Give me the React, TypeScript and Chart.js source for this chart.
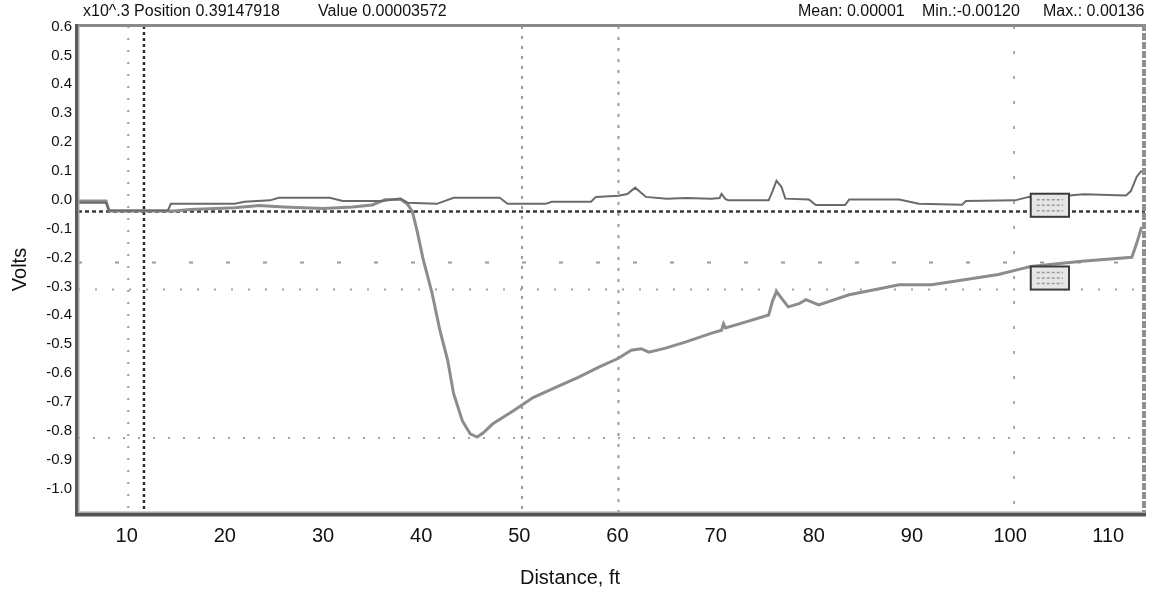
import React, { useEffect, useRef } from "react";
import { Chart, registerables } from "chart.js";

Chart.register(...registerables);

const FONT = "'Liberation Sans', Arial, Helvetica, sans-serif";

// Upper trace (near 0 V)
const upperX = [
  5.04, 7.9, 8.2, 14.2, 14.5, 21.0, 22.0, 24.6, 25.5, 30.7, 32.0, 36.0, 37.9, 38.6, 41.6, 43.3, 48.0,
  48.8, 52.7, 53.3, 57.3, 57.8, 60.1, 61.0, 61.8, 62.9, 65.0, 67.0, 69.6, 70.4, 70.6, 71.0, 71.3, 75.4,
  75.8, 76.2, 76.7, 77.1, 79.5, 80.2, 83.2, 83.6, 88.7, 90.7, 95.1, 95.5, 100.5, 101.9, 106.0, 107.5,
  111.8, 112.3, 112.9, 113.4,
];
const upperY = [
  -0.01, -0.01, -0.037, -0.037, -0.014, -0.014, -0.007, -0.002, 0.007, 0.007, -0.004, -0.004, 0.004,
  -0.01, -0.014, 0.007, 0.007, -0.014, -0.014, -0.007, -0.007, 0.01, 0.014, 0.02, 0.042, 0.01, 0.004,
  0.006, 0.004, 0.006, 0.02, 0.002, -0.002, -0.002, 0.03, 0.066, 0.045, 0.004, 0.001, -0.018, -0.018,
  0.001, 0.001, -0.014, -0.017, -0.004, -0.002, 0.01, 0.015, 0.019, 0.015, 0.03, 0.08, 0.101,
];

// Lower trace (dip to about -0.82 V)
const lowerX = [
  5.04, 7.9, 8.2, 14.8, 16.5, 21.0, 23.5, 26.0, 30.0, 33.0, 35.0, 36.3, 37.9, 38.6, 39.1, 39.6, 40.2,
  41.1, 41.9, 42.7, 43.3, 44.2, 45.0, 45.7, 46.3, 47.3, 49.4, 51.4, 53.7, 56.0, 58.1, 60.1, 61.4, 62.4,
  63.2, 64.9, 66.9, 69.6, 70.6, 70.8, 71.0, 73.1, 75.4, 75.8, 76.2, 76.8, 77.4, 78.5, 79.2, 80.5, 83.6,
  88.7, 92.0, 95.5, 98.8, 100.9, 102.1, 107.3, 112.4, 112.9, 113.4,
];
const lowerY = [
  -0.004, -0.004, -0.039, -0.039, -0.034, -0.028, -0.02, -0.025, -0.03, -0.025, -0.018, 0.0, 0.002,
  -0.015, -0.04, -0.11, -0.206, -0.322, -0.451, -0.556, -0.671, -0.766, -0.811, -0.822, -0.808, -0.776,
  -0.731, -0.685, -0.65, -0.615, -0.58, -0.549, -0.521, -0.516, -0.528, -0.514, -0.493, -0.462, -0.452,
  -0.43, -0.444, -0.423, -0.399, -0.35, -0.318, -0.345, -0.371, -0.36, -0.346, -0.364, -0.329, -0.294,
  -0.294, -0.276, -0.259, -0.241, -0.231, -0.213, -0.199, -0.15, -0.094,
];

const xTickValues = [10, 20, 30, 40, 50, 60, 70, 80, 90, 100, 110];
const yTickValues = [0.6, 0.5, 0.4, 0.3, 0.2, 0.1, 0.0, -0.1, -0.2, -0.3, -0.4, -0.5, -0.6, -0.7, -0.8, -0.9, -1.0];

// Cursor / reference lines
const refHValues = [-0.041, -0.217, -0.311, -0.825];
const refVValues = [10.16, 11.76, 50.27, 60.1, 100.4];

// Marker boxes
const markerX0 = [102.1, 102.1];
const markerX1 = [106.0, 106.0];
const markerTop = [0.021, -0.231];
const markerBottom = [-0.059, -0.311];

const headerTexts = [
  "x10^.3 Position 0.39147918",
  "Value 0.00003572",
  "Mean: 0.00001",
  "Min.:-0.00120",
  "Max.: 0.00136",
];
const xTitle = "Distance, ft";
const yTitle = "Volts";

const hStyles = [
  { color: "#3a3a3a", width: 2.5, dash: [4, 3] },
  { color: "#9a9a9a", width: 2, dash: [4, 33] },
  { color: "#a0a0a0", width: 2, dash: [2, 15] },
  { color: "#a0a0a0", width: 2, dash: [2, 13] },
];
const vStyles = [
  { color: "#9a9a9a", width: 2, dash: [2, 10] },
  { color: "#2e2e2e", width: 2.5, dash: [3, 3] },
  { color: "#9a9a9a", width: 2, dash: [3, 7] },
  { color: "#9a9a9a", width: 2, dash: [3, 8] },
  { color: "#a8a8a8", width: 2, dash: [3, 22] },
];
const headerPos = [83, 318, 798, 922, 1043];

const refPlugin = {
  id: "refLines",
  beforeDatasetsDraw(chart: any) {
    const { ctx, chartArea: ca, scales } = chart;
    const x = scales.x;
    const y = scales.y;
    ctx.save();
    ctx.beginPath();
    ctx.rect(ca.left, ca.top, ca.right - ca.left, ca.bottom - ca.top);
    ctx.clip();
    refHValues.forEach((v, i) => {
      const st = hStyles[i];
      const py = y.getPixelForValue(v);
      ctx.setLineDash(st.dash);
      ctx.lineWidth = st.width;
      ctx.strokeStyle = st.color;
      ctx.beginPath();
      ctx.moveTo(ca.left, py);
      ctx.lineTo(ca.right, py);
      ctx.stroke();
    });
    refVValues.forEach((v, i) => {
      const st = vStyles[i];
      const px = x.getPixelForValue(v);
      ctx.setLineDash(st.dash);
      ctx.lineWidth = st.width;
      ctx.strokeStyle = st.color;
      ctx.beginPath();
      ctx.moveTo(px, ca.top);
      ctx.lineTo(px, ca.bottom);
      ctx.stroke();
    });
    ctx.restore();
  },
};

const decorPlugin = {
  id: "decor",
  afterDatasetsDraw(chart: any) {
    const { ctx, scales } = chart;
    const x = scales.x;
    const y = scales.y;
    ctx.save();
    markerX0.forEach((x0, i) => {
      const l = x.getPixelForValue(x0);
      const r = x.getPixelForValue(markerX1[i]);
      const t = y.getPixelForValue(markerTop[i]);
      const b = y.getPixelForValue(markerBottom[i]);
      ctx.setLineDash([]);
      ctx.fillStyle = "#e6e6e6";
      ctx.fillRect(l, t, r - l, b - t);
      ctx.strokeStyle = "#9a9a9a";
      ctx.lineWidth = 1.5;
      ctx.setLineDash([3, 2]);
      for (let k = 0; k < 3; k++) {
        const yy = t + 6 + k * ((b - t - 12) / 2);
        ctx.beginPath();
        ctx.moveTo(l + 6, yy);
        ctx.lineTo(r - 6, yy);
        ctx.stroke();
      }
      ctx.setLineDash([]);
      ctx.strokeStyle = "#3c3c3c";
      ctx.lineWidth = 2;
      ctx.strokeRect(l, t, r - l, b - t);
    });
    ctx.restore();
  },
  afterDraw(chart: any) {
    const { ctx, chartArea: ca } = chart;
    ctx.save();
    ctx.setLineDash([]);
    // top edge
    ctx.fillStyle = "#8a8a8a";
    ctx.fillRect(ca.left - 3, ca.top - 2, ca.right - ca.left + 3, 3);
    // right edge dashed
    ctx.strokeStyle = "#8f8f8f";
    ctx.lineWidth = 4;
    ctx.setLineDash([7, 2]);
    ctx.beginPath();
    ctx.moveTo(ca.right - 1, ca.top - 2);
    ctx.lineTo(ca.right - 1, ca.bottom);
    ctx.stroke();
    ctx.setLineDash([]);
    // left edge
    ctx.fillStyle = "#5a5a5a";
    ctx.fillRect(ca.left - 3, ca.top - 2, 3, ca.bottom - ca.top + 5);
    ctx.fillStyle = "#a5a5a5";
    ctx.fillRect(ca.left, ca.top, 1.5, ca.bottom - ca.top);
    // bottom edge
    ctx.fillStyle = "#555555";
    ctx.fillRect(ca.left - 3, ca.bottom, ca.right - ca.left + 4, 3.5);
    ctx.fillStyle = "#a5a5a5";
    ctx.fillRect(ca.left, ca.bottom - 1.5, ca.right - ca.left, 1.5);

    // header texts
    ctx.fillStyle = "#111111";
    ctx.font = `16px ${FONT}`;
    ctx.textBaseline = "middle";
    ctx.textAlign = "left";
    headerTexts.forEach((t, i) => ctx.fillText(t, headerPos[i], 12));

    // x title
    ctx.font = `20px ${FONT}`;
    ctx.textAlign = "center";
    ctx.fillText(xTitle, 570, 578);
    ctx.restore();
  },
};

export default function App() {
  const ref = useRef<HTMLCanvasElement | null>(null);

  useEffect(() => {
    if (!ref.current) return;
    const chart = new Chart(ref.current, {
      type: "line",
      data: {
        datasets: [
          {
            label: "upper",
            data: upperX.map((v, i) => ({ x: v, y: upperY[i] })),
            borderColor: "#6a6a6a",
            borderWidth: 2,
            pointRadius: 0,
            tension: 0,
            fill: false,
          },
          {
            label: "lower",
            data: lowerX.map((v, i) => ({ x: v, y: lowerY[i] })),
            borderColor: "#8c8c8c",
            borderWidth: 3,
            pointRadius: 0,
            tension: 0,
            fill: false,
          },
        ],
      },
      options: {
        animation: false,
        responsive: false,
        maintainAspectRatio: false,
        devicePixelRatio: 1,
        layout: { padding: { top: 26, right: 8, left: 0, bottom: 0 } },
        plugins: {
          legend: { display: false },
          tooltip: { enabled: false },
          title: { display: false },
        },
        scales: {
          x: {
            type: "linear",
            min: 5.04,
            max: 113.74,
            grid: { display: false, drawTicks: false },
            border: { display: false },
            ticks: {
              color: "#111111",
              font: { family: FONT, size: 20 },
              padding: 11,
              maxRotation: 0,
              autoSkip: false,
              callback: (v: any) => String(v),
            },
            afterBuildTicks: (scale: any) => {
              scale.ticks = xTickValues.map((v) => ({ value: v }));
            },
            afterFit: (scale: any) => {
              scale.height = 82;
            },
          },
          y: {
            type: "linear",
            min: -1.085,
            max: 0.602,
            grid: { display: false, drawTicks: false },
            border: { display: false },
            ticks: {
              color: "#111111",
              font: { family: FONT, size: 15 },
              padding: 6,
              autoSkip: false,
              callback: (v: any) => Number(v).toFixed(1),
            },
            afterBuildTicks: (scale: any) => {
              scale.ticks = yTickValues.map((v) => ({ value: v }));
            },
            afterFit: (scale: any) => {
              scale.width = 78;
            },
            title: {
              display: true,
              text: yTitle,
              color: "#111111",
              font: { family: FONT, size: 20 },
              padding: { top: 8, bottom: 0 },
            },
          },
        },
      },
      plugins: [refPlugin, decorPlugin],
    });
    return () => chart.destroy();
  }, []);

  return (
    <div style={{ position: "absolute", left: 0, top: 0, width: 1153, height: 595, background: "#ffffff" }}>
      <canvas ref={ref} width={1153} height={595} style={{ width: 1153, height: 595, display: "block" }} />
    </div>
  );
}
